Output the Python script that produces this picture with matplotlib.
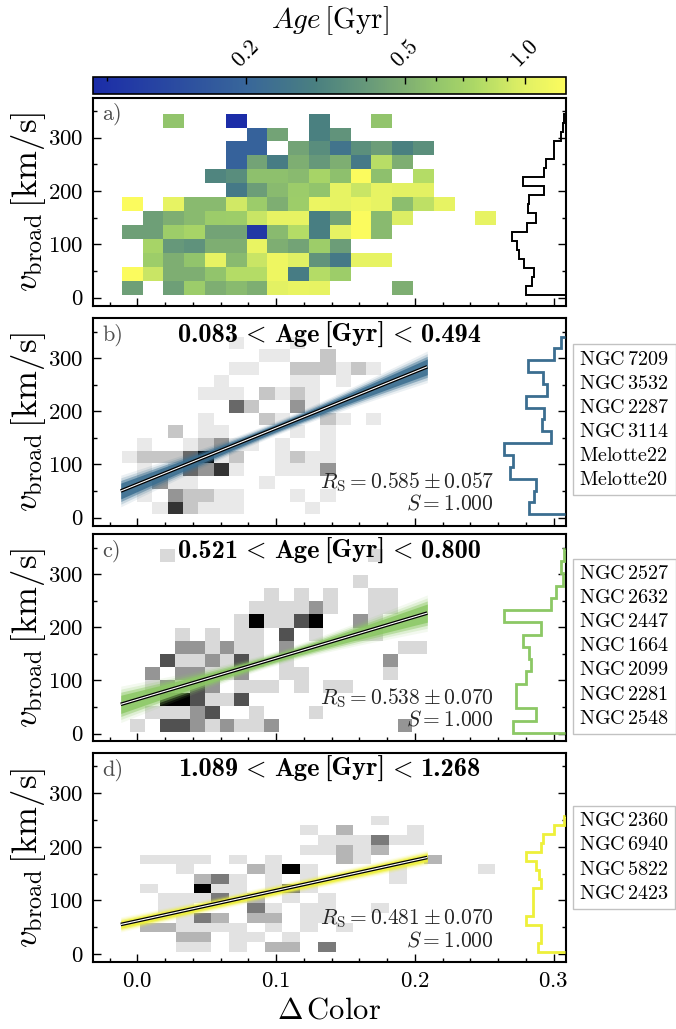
import numpy as np
import matplotlib
matplotlib.use("Agg")
import matplotlib.pyplot as plt
from matplotlib.colors import LogNorm, LinearSegmentedColormap, Normalize
from matplotlib.lines import Line2D
from matplotlib.offsetbox import TextArea, HPacker, AnchoredOffsetbox

plt.rcParams.update({
    'font.family': 'serif',
    'font.serif': ['cmr10'],
    'mathtext.fontset': 'cm',
    'axes.formatter.use_mathtext': True,
    'axes.unicode_minus': False,
})

n = np.nan

# ---------------- data ----------------
age_min, age_max = 0.083, 1.268
cbar_ticks = [0.2, 0.5, 1.0]

# panel a: mean age per (dColor, vbroad) bin ; rows bottom -> top
a_xrange, a_nx = (-0.0113, 0.2587), 18
a_yrange, a_ny = (4.4, 345.0), 13
age_grid = [
    [0.43, n, 0.43, 0.65, 0.5, 0.55, 0.5, 1.02, 1.08, 1.05, n, n, n, 0.5, n, n, n, n],
    [1.25, 0.88, 0.5, 0.5, 0.6, 0.78, 0.78, 1.12, 0.28, 0.78, 0.66, n, n, n, n, n, n, n],
    [n, 0.66, 0.5, 0.6, 1.05, 0.55, 0.88, 1.12, 1.0, 0.38, 0.27, 1.05, 1.05, n, n, n, n, n],
    [n, 0.72, 0.4, 0.37, 0.5, 0.5, 1.08, 0.5, 0.45, 0.66, 0.42, n, n, n, n, n, n, n],
    [0.43, 0.43, 0.66, 0.72, 0.45, 0.45, 0.1, 0.55, 0.78, 0.29, 1.05, 1.25, 0.55, n, n, n, n, n],
    [n, 0.43, 0.5, 0.55, 0.65, 0.66, 0.88, 1.05, 1.05, 0.29, 0.45, 1.25, 0.55, 0.98, n, n, n, 1.05],
    [1.25, n, 1.05, 0.55, 0.55, 0.92, 0.65, 0.5, 0.66, 1.1, 1.05, 1.12, 1.05, 0.57, 0.82, 1.05, n, n],
    [n, n, n, n, n, 0.27, 0.42, 0.55, 0.65, 0.6, 1.05, 0.88, 1.05, 1.02, 1.02, n, n, n],
    [n, n, n, n, 0.32, 0.35, 0.58, 0.58, 0.55, 0.72, 0.58, 1.25, 0.58, n, 0.78, n, n, n],
    [n, n, n, n, n, 0.19, 0.45, 0.28, 0.5, 0.4, 0.5, 0.27, 0.8, 0.5, n, n, n, n],
    [n, n, n, n, n, 0.19, 0.19, n, 0.45, 0.35, 0.25, 0.36, 0.42, 0.3, 0.36, n, n, n],
    [n, n, n, n, n, n, 0.19, 0.45, n, 0.3, 0.38, n, n, n, n, n, n, n],
    [n, n, 0.6, n, n, 0.085, n, n, n, 0.3, n, n, 0.6, n, n, n, n, n],
]
hist_a_range = (4.4, 345.0)
hist_a = [39, 33, 31, 41, 46, 48, 54, 38, 29, 37, 36, 21, 42, 21, 19, 11, 11, 4, 2, 1]

# panel b
b_xrange, b_nx = (-0.0112, 0.209), 20
b_yrange, b_ny = (6.3, 340.9), 14
counts_b = [
    [0,0,1,5,2,1,1,1,0,0,0,0,1,0,0,0,0,0,0,0],
    [0,1,0,3,2,2,1,1,0,0,0,1,0,1,0,0,0,0,0,0],
    [0,1,3,1,1,0,0,0,0,1,0,0,0,0,0,0,0,0,0,0],
    [0,1,0,1,4,3,5,1,0,0,1,1,1,3,0,0,0,0,0,0],
    [1,2,2,2,4,6,1,2,0,0,1,2,1,1,0,0,0,0,0,0],
    [0,1,0,0,1,2,3,1,1,0,1,0,0,1,0,0,0,0,0,0],
    [0,0,0,2,0,1,1,0,0,0,0,1,0,1,0,0,0,0,0,0],
    [0,0,0,0,0,1,0,0,0,2,1,0,0,2,1,0,1,0,0,0],
    [0,0,0,0,0,0,0,4,2,0,0,3,1,0,0,0,0,0,0,0],
    [0,0,0,0,0,1,1,1,0,2,1,2,1,0,0,0,0,0,0,0],
    [0,0,0,0,0,0,1,0,0,0,0,1,1,0,1,0,0,0,0,0],
    [0,0,0,0,0,0,0,1,1,0,0,2,2,2,1,2,1,0,0,0],
    [0,0,0,0,0,0,0,0,0,1,1,0,0,2,0,0,0,0,0,0],
    [0,0,0,0,0,0,0,1,0,0,0,1,0,0,0,0,0,0,0,0],
]
hist_b_range = (6.3, 341.0)
hist_b = [36, 31, 29, 56, 52, 62, 14, 23, 21, 39, 18, 22, 37, 11, 4]

# panel c
c_xrange, c_nx = (-0.005, 0.209), 20
c_yrange, c_ny = (2.0, 347.8), 14
counts_c = [
    [1,0,3,3,2,1,2,1,1,2,0,0,0,0,0,0,0,0,2,0],
    [0,1,1,1,2,3,0,0,1,0,0,0,1,0,0,0,0,0,0,0],
    [0,0,4,4,3,1,1,3,0,0,0,0,0,0,0,0,0,0,0,0],
    [0,1,2,1,3,2,0,1,1,1,0,1,0,1,1,0,0,0,0,0],
    [0,2,0,2,2,1,1,2,0,0,1,1,0,0,0,0,0,1,0,0],
    [0,0,3,1,1,2,1,3,1,0,1,0,0,0,0,0,0,2,0,0],
    [0,0,0,2,2,1,2,1,1,0,2,0,0,0,0,0,0,0,1,1],
    [0,0,0,1,0,1,0,1,1,0,3,0,1,0,0,1,1,0,0,0],
    [0,0,0,0,0,0,0,1,4,1,1,3,4,0,0,2,1,0,0,0],
    [0,0,0,0,0,0,0,0,1,1,1,1,2,1,0,0,1,1,0,0],
    [0,0,0,0,0,0,0,0,0,1,0,1,0,1,0,0,1,1,0,0],
    [0,0,0,0,0,0,0,0,0,0,0,0,0,0,0,1,0,0,0,0],
    [0,0,0,0,0,0,0,0,0,0,0,0,0,0,0,0,0,0,0,0],
    [0,0,1,0,0,0,0,0,0,0,0,0,0,0,0,0,1,0,0,0],
]
hist_c_range = (1.3, 348.0)
hist_c = [52, 29, 49, 49, 39, 34, 36, 42, 24, 62, 14, 9, 2, 4, 1]

# panel d
d_xrange, d_nx = (0.0021, 0.2581), 20
d_yrange, d_ny = (4.0, 258.1), 14
counts_d = [
    [0,0,1,1,0,1,0,2,2,0,3,0,0,0,0,0,0,0,0,0],
    [0,0,2,2,0,1,1,0,1,0,0,0,0,0,0,0,0,0,0,0],
    [2,2,1,1,1,1,0,1,0,1,0,1,0,0,0,0,0,0,0,0],
    [0,0,1,3,2,0,2,2,0,1,1,0,0,0,0,0,0,0,0,0],
    [0,1,1,0,0,0,3,1,0,1,1,0,0,1,0,0,0,0,0,0],
    [0,1,1,1,3,1,2,0,1,0,1,0,0,0,0,0,0,0,0,0],
    [1,0,0,5,1,1,0,1,3,1,0,0,0,0,0,0,0,0,0,0],
    [0,0,0,2,3,1,0,1,0,1,0,0,0,0,1,0,0,0,0,0],
    [0,0,1,0,0,0,2,1,5,1,0,0,0,0,1,0,0,0,0,1],
    [1,1,1,1,0,1,0,1,0,0,0,2,1,0,0,0,2,0,0,0],
    [0,0,0,0,0,0,0,0,0,1,1,2,1,2,0,0,0,0,0,0],
    [0,0,0,0,0,0,0,0,0,0,1,1,1,3,1,1,0,0,0,0],
    [0,0,0,0,0,0,0,0,0,1,0,2,0,0,0,1,0,0,0,0],
    [0,0,0,0,0,0,0,0,0,0,0,0,0,1,0,0,0,0,0,0],
]
hist_d_range = (4.0, 258.0)
hist_d = [27, 24, 24, 39, 32, 32, 32, 24, 26, 29, 39, 24, 22, 11, 1]

fit_xrange = (-0.012, 0.209)
fit_slopes = [1059.0, 778.0, 566.0]
fit_intercepts = [62.7, 64.3, 61.8]
fit_err_center = [9.0, 9.0, 8.0]
fit_err_slope = [160.0, 190.0, 45.0]

age_titles = [('0.083', '0.494'), ('0.521', '0.800'), ('1.089', '1.268')]
rs_vals = [(0.585, 0.057), (0.538, 0.070), (0.481, 0.070)]
s_vals = [1.000, 1.000, 1.000]
clusters_b = ['NGC 7209', 'NGC 3532', 'NGC 2287', 'NGC 3114', 'Melotte22', 'Melotte20']
clusters_c = ['NGC 2527', 'NGC 2632', 'NGC 2447', 'NGC 1664', 'NGC 2099', 'NGC 2281', 'NGC 2548']
clusters_d = ['NGC 2360', 'NGC 6940', 'NGC 5822', 'NGC 2423']
panel_colors = ['#3b6e90', '#8cc865', '#eef03a']

# ---------------- style ----------------
cmap_age = LinearSegmentedColormap.from_list('age', [
    (0.0, '#1b2ca8'), (0.3226, '#38669a'), (0.4714, '#4a8080'),
    (0.5769, '#66987a'), (0.6588, '#7eae72'), (0.7256, '#92c46c'),
    (0.8075, '#acd866'), (0.913, '#e0f064'), (1.0, '#fcfc5e')])
norm_age = LogNorm(vmin=age_min, vmax=age_max)

fig = plt.figure(figsize=(6.76, 10.29), dpi=100)
L, W = 0.1376, 0.6997
positions = [[L, 0.7031, W, 0.2021], [L, 0.4893, W, 0.2012],
             [L, 0.2794, W, 0.2012], [L, 0.0651, W, 0.2031]]
axes = [fig.add_axes(p) for p in positions]
XLIM = (-0.032, 0.309)
YLIM = (-15, 375)


def style_axis(ax, bottom_labels):
    ax.set_xlim(*XLIM)
    ax.set_ylim(*YLIM)
    ax.set_xticks([0.0, 0.1, 0.2, 0.3])
    ax.set_xticks(np.arange(-0.02, 0.31, 0.02), minor=True)
    ax.set_yticks([0, 100, 200, 300])
    ax.set_yticks([50, 150, 250, 350], minor=True)
    ax.tick_params(which='both', direction='in', left=True, right=True,
                   top=False, bottom=True, width=1.0, labelsize=16.5, pad=7)
    ax.tick_params(which='major', length=6)
    ax.tick_params(which='minor', length=3)
    if not bottom_labels:
        ax.tick_params(labelbottom=False)
    for s in ax.spines.values():
        s.set_linewidth(1.5)
    ax.set_ylabel(r'$v_\mathrm{broad}\,[\mathrm{km/s}]$', fontsize=25, labelpad=0)


def draw_hist(ax, values, yr, color, lw):
    ins = ax.inset_axes([0.78, 0.0, 0.22, 1.0])
    ins.set_ylim(*YLIM)
    ins.set_xlim(104, -1)
    ins.axis('off')
    ins.patch.set_alpha(0)
    edges = np.linspace(yr[0], yr[1], len(values) + 1)
    ins.stairs(values, edges, orientation='horizontal', baseline=0,
               color=color, lw=lw)


def bold_title(ax, lo, hi, size=19):
    bp = dict(fontfamily='cmb10', fontsize=size)
    mp = dict(fontfamily='cmmi10', fontsize=size)
    agebox = HPacker(children=[TextArea('Age', textprops=bp), TextArea('[Gyr]', textprops=bp)],
                     align='baseline', pad=0, sep=3)
    box = HPacker(children=[TextArea(lo, textprops=bp), TextArea('<', textprops=mp), agebox,
                            TextArea('<', textprops=mp), TextArea(hi, textprops=bp)],
                  align='baseline', pad=0, sep=5.5)
    anc = AnchoredOffsetbox(loc='upper center', child=box, frameon=False, pad=0, borderpad=0,
                            bbox_to_anchor=(0.5, 0.985), bbox_transform=ax.transAxes)
    ax.add_artist(anc)


# panel a
ax = axes[0]
xe = np.linspace(*a_xrange, a_nx + 1)
ye = np.linspace(*a_yrange, a_ny + 1)
ax.pcolormesh(xe, ye, np.ma.masked_invalid(np.array(age_grid)), cmap=cmap_age, norm=norm_age)
draw_hist(ax, hist_a, hist_a_range, 'k', 1.4)
style_axis(ax, False)
ax.text(0.02, 0.975, 'a)', transform=ax.transAxes, ha='left', va='top', fontsize=16, color='0.3')

grids = [(counts_b, b_xrange, b_nx, b_yrange, b_ny, hist_b, hist_b_range, clusters_b),
         (counts_c, c_xrange, c_nx, c_yrange, c_ny, hist_c, hist_c_range, clusters_c),
         (counts_d, d_xrange, d_nx, d_yrange, d_ny, hist_d, hist_d_range, clusters_d)]
legend_y = [0.51, 0.46, 0.5]
for i, (cnt, xr, nx, yr, ny, hv, hr, names) in enumerate(grids):
    ax = axes[i + 1]
    cnt = np.array(cnt, dtype=float)
    xe = np.linspace(*xr, nx + 1)
    ye = np.linspace(*yr, ny + 1)
    ax.pcolormesh(xe, ye, np.ma.masked_equal(cnt, 0), cmap='Greys',
                  norm=Normalize(0, cnt.max()))
    col = panel_colors[i]
    xf = np.linspace(*fit_xrange, 200)
    yc = fit_intercepts[i] + fit_slopes[i] * xf
    xp = np.mean(fit_xrange)
    half = np.sqrt(fit_err_center[i] ** 2 + (fit_err_slope[i] * (xf - xp)) ** 2)
    for f, a in [(1.5, 0.10), (1.25, 0.20), (1.0, 0.45), (0.75, 0.85)]:
        ax.fill_between(xf, yc - f * half, yc + f * half, color=col, alpha=a, lw=0)
    ax.plot(xf, yc, color='k', lw=2.6, solid_capstyle='butt')
    ax.plot(xf, yc, color='w', lw=0.8, solid_capstyle='butt')
    draw_hist(ax, hv, hr, col, 2.0)
    style_axis(ax, i == 2)
    ax.text(0.02, 0.975, 'bcd'[i] + ')', transform=ax.transAxes, ha='left', va='top',
            fontsize=16, color='0.3')
    bold_title(ax, *age_titles[i])
    r, e = rs_vals[i]
    ax.text(0.848, 0.18, r'$R_\mathrm{S} = %.3f \pm %.3f$' % (r, e),
            transform=ax.transAxes, ha='right', va='baseline', fontsize=15.5, color='0.15')
    ax.text(0.848, 0.075, r'$S = %.3f$' % s_vals[i],
            transform=ax.transAxes, ha='right', va='baseline', fontsize=15.5, color='0.15')
    handles = [Line2D([], [], linestyle='none') for _ in names]
    labels = [r'$\mathrm{%s}$' % nm.replace(' ', r'\,') for nm in names]
    leg = ax.legend(handles, labels, loc='center left', bbox_to_anchor=(1.015, legend_y[i]),
                    handlelength=0, handletextpad=0, fontsize=14.5, frameon=True,
                    fancybox=False, edgecolor='0.7', borderpad=0.3, labelspacing=0.3,
                    borderaxespad=0)
    leg.get_frame().set_linewidth(1.0)

axes[3].set_xlabel(r'$\Delta\,\mathrm{Color}$', fontsize=22, labelpad=4)

# colorbar
cax = fig.add_axes([L, 1 - 93.5 / 1029, W, 16.5 / 1029])
sm = plt.cm.ScalarMappable(norm=norm_age, cmap=cmap_age)
cb = fig.colorbar(sm, cax=cax, orientation='horizontal', ticklocation='top')
cb.set_ticks(cbar_ticks)
cb.set_ticklabels([r'$%.1f$' % t for t in cbar_ticks])
cax.set_xticks([0.09, 0.3, 0.4, 0.6, 0.7, 0.8, 0.9], minor=True)
cax.tick_params(which='both', direction='in', labelsize=16, width=1.0, pad=4)
cax.tick_params(which='major', length=5)
cax.tick_params(which='minor', length=3)
for lab in cax.get_xticklabels():
    lab.set_rotation(45)
cb.outline.set_linewidth(1.2)
cb.set_label(r'$Age\,[\mathrm{Gyr}]$', fontsize=21, labelpad=6)

fig.savefig('out.png', dpi=100)
